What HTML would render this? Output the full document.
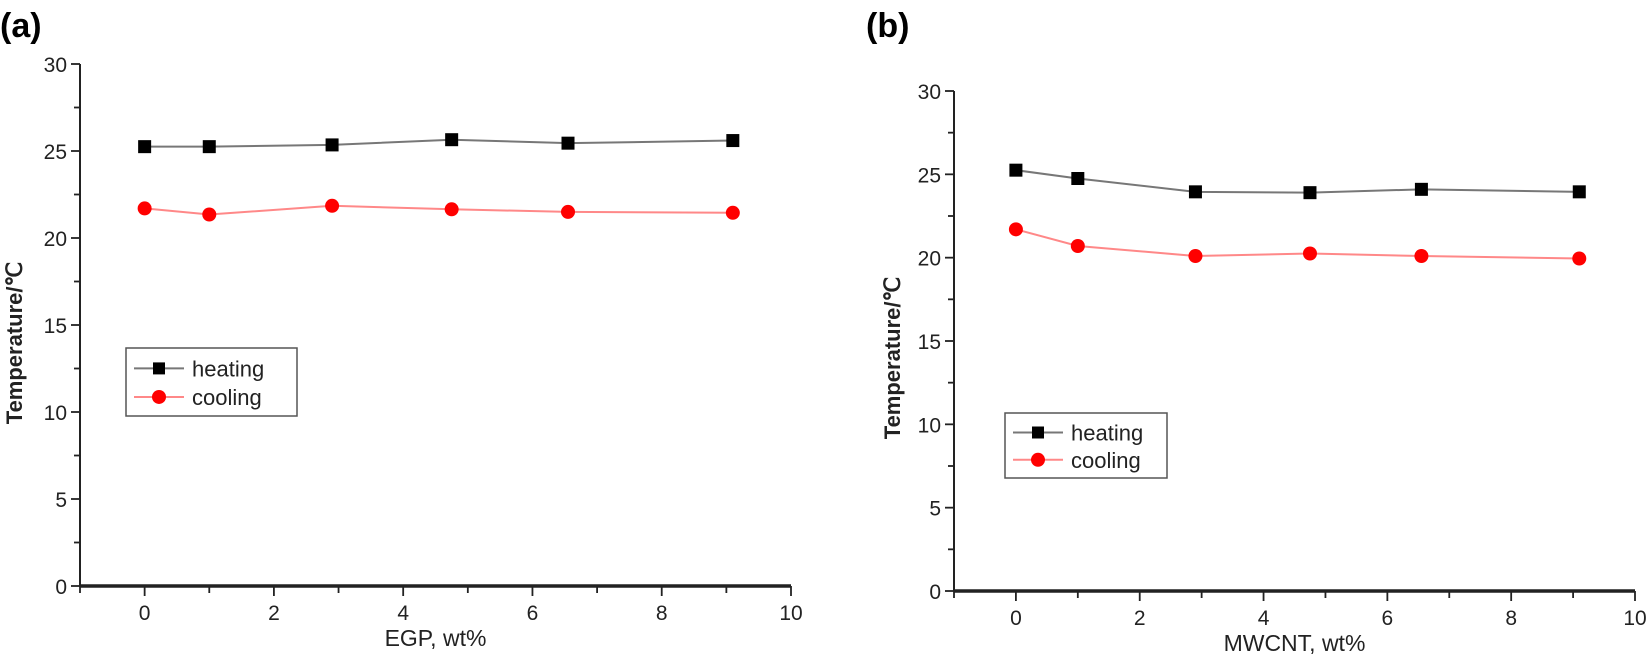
<!DOCTYPE html>
<html><head><meta charset="utf-8"><style>
html,body{margin:0;padding:0;background:#fff}
svg{display:block;font-family:"Liberation Sans",Arial,sans-serif}
</style></head><body>
<svg id="s" width="1649" height="657" viewBox="0 0 1649 657" xmlns="http://www.w3.org/2000/svg"></svg>
<script>
const xsA=[0,1,2.9,4.75,6.55,9.1];
const heatA=[25.25,25.25,25.35,25.65,25.45,25.6];
const coolA=[21.7,21.35,21.85,21.65,21.5,21.45];
const xsB=[0,1,2.9,4.75,6.55,9.1];
const heatB=[25.25,24.75,23.95,23.9,24.1,23.95];
const coolB=[21.7,20.7,20.1,20.25,20.1,19.95];
const xTicks=[0,2,4,6,8,10];
const yTicks=[0,5,10,15,20,25,30];
const NS="http://www.w3.org/2000/svg";
const svg=document.getElementById('s');
function mk(t,a,p){const e=document.createElementNS(NS,t);for(const k in a)e.setAttribute(k,a[k]);(p||svg).appendChild(e);return e;}
function panel(cfg){
  const g=mk('g',{});
  
  
  const X=v=>cfg.x0+(v+1)/11*(cfg.x1-cfg.x0);
  const Y=v=>cfg.y0-v/30*(cfg.y0-cfg.y1);
  const lab=mk('text',{x:cfg.lx,y:37,'font-size':34,'font-weight':'bold'},g);lab.textContent=cfg.label;
  
  const ya=mk('line',{x1:cfg.x0,y1:cfg.y1,x2:cfg.x0,y2:cfg.y0,stroke:'#222','stroke-width':2},g);
  
  const xa=mk('line',{x1:cfg.x0,y1:cfg.y0,x2:cfg.x1,y2:cfg.y0,stroke:'#222','stroke-width':3.5},g);
  
  for(let v=0;v<=30;v+=2.5){const y=Y(v);mk('line',{x1:cfg.x0-(v%5===0?9:6),y1:y,x2:cfg.x0,y2:y,stroke:'#222','stroke-width':1.8},g);}
  yTicks.forEach(v=>{const t=mk('text',{x:cfg.x0-13,y:Y(v)+8,'font-size':21,'text-anchor':'end',fill:'#222'},g);t.textContent=v;
    });
  for(let v=-1;v<=10;v+=1){const x=X(v);mk('line',{x1:x,y1:cfg.y0,x2:x,y2:cfg.y0+(v%2===0?10:7),stroke:'#222','stroke-width':1.8},g);}
  xTicks.forEach(v=>{const t=mk('text',{x:X(v),y:cfg.y0+34,'font-size':21,'text-anchor':'middle',fill:'#222'},g);t.textContent=v;
    });
  const xt=mk('text',{x:(X(-1)+X(10))/2,y:cfg.y0+60,'font-size':23,'text-anchor':'middle',fill:'#222'},g);xt.textContent=cfg.xtitle;
  
  const yt=mk('text',{x:0,y:0,'font-size':22,'font-weight':'bold','text-anchor':'middle',fill:'#222',transform:`translate(${cfg.ytx},${cfg.yty}) rotate(-90)`},g);yt.textContent='Temperature/℃';
  
  function series(xs,vals,color,mark,nm){
    const pl=mk('polyline',{points:xs.map((x,i)=>X(x)+','+Y(vals[i])).join(' '),fill:'none',stroke:color,'stroke-width':2},g);
    
    xs.forEach((x,i)=>{let m;
      if(mark==='sq')m=mk('rect',{x:X(x)-6.5,y:Y(vals[i])-6.5,width:13,height:13,fill:'#000'},g);
      else m=mk('circle',{cx:X(x),cy:Y(vals[i]),r:7,fill:'#f00'},g);
      });
  }
  series(cfg.xs,cfg.heat,'#777','sq','heating');
  series(cfg.xs,cfg.cool,'#f88','ci','cooling');
  const L=cfg.leg;
  const lg=mk('g',{},g);
  mk('rect',{x:L.x,y:L.y,width:L.w,height:L.h,fill:'#fff',stroke:'#555','stroke-width':1.5},lg);
  [['heating','#777','sq'],['cooling','#f88','ci']].forEach((e,i)=>{
    const cy=L.y+L.h*(i?0.72:0.3);
    const eg=mk('g',{},lg);
    mk('line',{x1:L.x+8,y1:cy,x2:L.x+58,y2:cy,stroke:e[1],'stroke-width':2},eg);
    if(e[2]==='sq')mk('rect',{x:L.x+27,y:cy-6,width:12,height:12,fill:'#000'},eg);
    else mk('circle',{cx:L.x+33,cy:cy,r:7,fill:'#f00'},eg);
    const t=mk('text',{x:L.x+66,y:cy+8,'font-size':22,fill:'#222'},eg);t.textContent=e[0];
  });
}
panel({name:'chart-a',label:'(a)',lx:0,x0:80,x1:791,y0:586,y1:64,xtitle:'EGP, wt%',ytx:22,yty:343,
  xs:xsA,heat:heatA,cool:coolA,leg:{x:126,y:348,w:171,h:68}});
panel({name:'chart-b',label:'(b)',lx:866,x0:954,x1:1635,y0:591,y1:91,xtitle:'MWCNT, wt%',ytx:900,yty:358,
  xs:xsB,heat:heatB,cool:coolB,leg:{x:1005,y:413,w:162,h:65}});
</script>
</body></html>
